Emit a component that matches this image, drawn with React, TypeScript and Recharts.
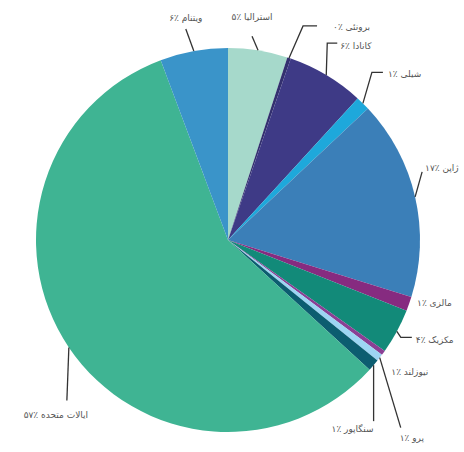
import { PieChart, Pie, Cell } from "recharts";

const countries = [
  "استرالیا",
  "برونئی",
  "کانادا",
  "شیلی",
  "ژاپن",
  "مالزی",
  "مکزیک",
  "نیوزلند",
  "پرو",
  "سنگاپور",
  "ایالات متحده",
  "ویتنام",
];
const shares = [5, 0.3, 6.5, 1.2, 16.8, 1.2, 3.8, 0.4, 0.6, 1.0, 57.5, 5.7];
const shareLabels = ["۵٪", "۰٪", "۶٪", "۱٪", "۱۷٪", "۱٪", "۴٪", "۱٪", "۱٪", "۱٪", "۵۷٪", "۶٪"];

const colors = [
  "#a6d9cb",
  "#33306f",
  "#3e3a86",
  "#1ea8db",
  "#3b7fb8",
  "#862b80",
  "#128a79",
  "#8a3f94",
  "#9dd5f3",
  "#0c5d70",
  "#3fb493",
  "#3a94c9",
];

// leader line layout: elbow offset from the arc point, horizontal run, text offset from line end
const labelLayout = [
  { ex: -6, ey: -14, run: 0, tx: 0, ty: -19, anchor: "middle" },
  { ex: 14, ey: -32, run: 14, tx: 16, ty: 1, anchor: "start" },
  { ex: 1, ey: -32, run: 10, tx: 3, ty: 3, anchor: "start" },
  { ex: 9, ey: -31, run: 11, tx: 5, ty: 2, anchor: "start" },
  { ex: 7, ey: -25, run: 0, tx: 3, ty: -4, anchor: "start" },
  { ex: 0, ey: 0, run: 0, tx: 8, ty: -1, anchor: "start" },
  { ex: 4, ey: 6, run: 11, tx: 4, ty: 3, anchor: "start" },
  { ex: 0, ey: 0, run: 0, tx: 8, ty: 19, anchor: "start" },
  { ex: 21, ey: 70, run: 0, tx: -1, ty: 10, anchor: "start" },
  { ex: 0, ey: 56, run: 0, tx: 0, ty: 8, anchor: "end" },
  { ex: -2, ey: 53, run: 0, tx: -11, ty: 15, anchor: "middle" },
  { ex: -8, ey: -22, run: 0, tx: 0, ty: -11, anchor: "middle" },
];

const data = countries.map((name, i) => ({
  name,
  value: shares[i],
  label: shareLabels[i],
}));

const RAD = Math.PI / 180;

function renderLabel(props: any) {
  const { cx, cy, midAngle, outerRadius, index } = props;
  const lay = labelLayout[index];
  const px = cx + outerRadius * Math.cos(-midAngle * RAD);
  const py = cy + outerRadius * Math.sin(-midAngle * RAD);
  const bx = px + lay.ex;
  const by = py + lay.ey;
  const endX = bx + lay.run;
  const hasLine = lay.ex !== 0 || lay.ey !== 0;
  return (
    <g>
      {hasLine && (
        <polyline
          points={`${px},${py} ${bx},${by} ${endX},${by}`}
          fill="none"
          stroke="#333"
          strokeWidth={1.3}
        />
      )}
      <text
        x={endX + lay.tx}
        y={by + lay.ty}
        textAnchor={lay.anchor}
        dominantBaseline="central"
        fontSize={9}
        fill="#555"
        fontFamily="DejaVu Sans, sans-serif"
      >
        {shareLabels[index] + " " + countries[index]}
      </text>
    </g>
  );
}

export default function App() {
  return (
    <div style={{ position: "absolute", left: 0, top: 0, background: "#fff" }}>
      <PieChart width={464} height={452}>
        <Pie
          data={data}
          dataKey="value"
          nameKey="name"
          cx={223}
          cy={235}
          outerRadius={192}
          startAngle={90}
          endAngle={-270}
          stroke="none"
          label={renderLabel}
          labelLine={false}
          isAnimationActive={false}
        >
          {data.map((d, i) => (
            <Cell key={d.name} fill={colors[i]} />
          ))}
        </Pie>
      </PieChart>
    </div>
  );
}
